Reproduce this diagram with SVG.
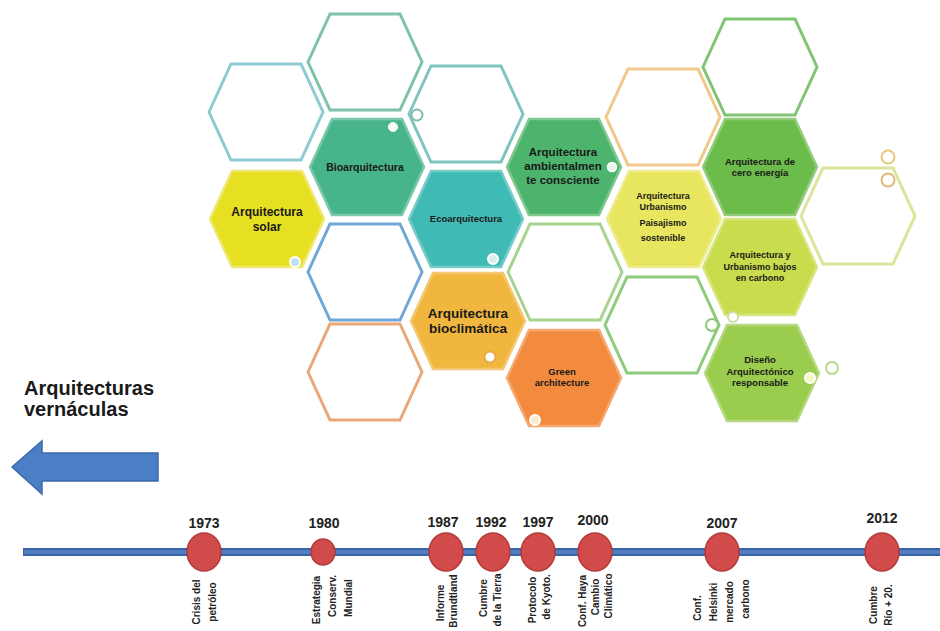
<svg xmlns="http://www.w3.org/2000/svg" xmlns:xlink="http://www.w3.org/1999/xlink" width="940" height="631" viewBox="0 0 940 631">
<defs>
<polygon id="hx" points="-57,0 -35,-48 35,-48 57,0 35,48 -35,48"/>
<style>
.e{fill:#ffffff;stroke-width:3}
.f{stroke-width:2.5}
.t{font-family:"Liberation Sans",Arial,sans-serif;font-weight:bold;fill:#1a1a1a;text-anchor:middle}
.yr{font-family:"Liberation Sans",Arial,sans-serif;font-weight:bold;font-size:14px;fill:#222;text-anchor:middle}
.v{font-family:"Liberation Sans",Arial,sans-serif;font-weight:bold;font-size:10px;fill:#222;text-anchor:middle}
.ev{fill:#d24b4b;stroke:#b23a3a;stroke-width:1.5}
.dw{fill:#ffffff;stroke-width:2}
</style>
</defs>
<rect width="940" height="631" fill="#ffffff"/>

<!-- empty hexagons -->
<g id="hex-empty-1"><use xlink:href="#hx" transform="translate(266,112)" class="e" stroke="#8ecad4"/></g>
<g id="hex-empty-2"><use xlink:href="#hx" transform="translate(365,62)" class="e" stroke="#7ec2a8"/></g>
<g id="hex-empty-3"><use xlink:href="#hx" transform="translate(365,272)" class="e" stroke="#6fa8d6"/></g>
<g id="hex-empty-4"><use xlink:href="#hx" transform="translate(365,372)" class="e" stroke="#eaa878"/></g>
<g id="hex-empty-5"><use xlink:href="#hx" transform="translate(466,114)" class="e" stroke="#80c4c0"/></g>
<g id="hex-empty-6"><use xlink:href="#hx" transform="translate(565,272)" class="e" stroke="#a6d48e"/></g>
<g id="hex-empty-7"><use xlink:href="#hx" transform="translate(663,117)" class="e" stroke="#f2c88a"/></g>
<g id="hex-empty-8"><use xlink:href="#hx" transform="translate(662,325)" class="e" stroke="#8ccc7c"/></g>
<g id="hex-empty-9"><use xlink:href="#hx" transform="translate(760,67)" class="e" stroke="#80c474"/></g>
<g id="hex-empty-10"><use xlink:href="#hx" transform="translate(858,216)" class="e" stroke="#dce49a"/></g>

<!-- filled hexagons -->
<g id="solar">
<use xlink:href="#hx" transform="translate(267,219)" class="f" fill="#e6df22" stroke="#eee870"/>
<text class="t" font-size="12" x="267" y="216">Arquitectura</text>
<text class="t" font-size="12" x="267" y="231">solar</text>
</g>
<g id="bioarquitectura">
<use xlink:href="#hx" transform="translate(367,167)" class="f" fill="#48b48c" stroke="#7cc8aa"/>
<text class="t" font-size="10.5" x="365" y="171">Bioarquitectura</text>
</g>
<g id="ecoarquitectura">
<use xlink:href="#hx" transform="translate(466,219)" class="f" fill="#40bab4" stroke="#78ccc8"/>
<text class="t" font-size="9.5" x="466" y="222">Ecoarquitectura</text>
</g>
<g id="bioclimatica">
<use xlink:href="#hx" transform="translate(468,321)" class="f" fill="#f0b63e" stroke="#f4c870"/>
<text class="t" font-size="13.5" x="468" y="318">Arquitectura</text>
<text class="t" font-size="13.5" x="468" y="333">bioclimática</text>
</g>
<g id="green-architecture">
<use xlink:href="#hx" transform="translate(564,378)" class="f" fill="#f28b3e" stroke="#f5a870"/>
<text class="t" font-size="9.5" x="562" y="375">Green</text>
<text class="t" font-size="9.5" x="562" y="386">architecture</text>
</g>
<g id="ambientalmente">
<use xlink:href="#hx" transform="translate(564,167)" class="f" fill="#4cb46c" stroke="#80c890"/>
<text class="t" font-size="11.5" x="563" y="156">Arquitectura</text>
<text class="t" font-size="11.5" x="563" y="170">ambientalmen</text>
<text class="t" font-size="11.5" x="563" y="184">te consciente</text>
</g>
<g id="paisajismo">
<use xlink:href="#hx" transform="translate(664,219)" class="f" fill="#e8e65e" stroke="#eeec90"/>
<text class="t" font-size="9" x="663" y="199">Arquitectura</text>
<text class="t" font-size="9" x="663" y="210">Urbanismo</text>
<text class="t" font-size="9" x="663" y="226">Paisajismo</text>
<text class="t" font-size="9" x="663" y="241">sostenible</text>
</g>
<g id="cero-energia">
<use xlink:href="#hx" transform="translate(760,167)" class="f" fill="#6cbc4c" stroke="#94cc7c"/>
<text class="t" font-size="9.5" x="760" y="165">Arquitectura  de</text>
<text class="t" font-size="9.5" x="760" y="176">cero energía</text>
</g>
<g id="bajos-carbono">
<use xlink:href="#hx" transform="translate(760,267)" class="f" fill="#c9dc4e" stroke="#d8e680"/>
<text class="t" font-size="9" x="760" y="258">Arquitectura y</text>
<text class="t" font-size="9" x="760" y="270">Urbanismo  bajos</text>
<text class="t" font-size="9" x="760" y="281">en carbono</text>
</g>
<g id="diseno">
<use xlink:href="#hx" transform="translate(762,373)" class="f" fill="#9acc4e" stroke="#b6d880"/>
<text class="t" font-size="9.5" x="760" y="363">Diseño</text>
<text class="t" font-size="9.5" x="760" y="375">Arquitectónico</text>
<text class="t" font-size="9.5" x="760" y="386">responsable</text>
</g>

<!-- decorative small circles -->
<g id="decor">
<circle cx="393" cy="127" r="4.5" fill="#f4fbf8" stroke="#ffffff" stroke-width="1"/>
<circle cx="417" cy="115" r="5.5" class="dw" stroke="#7cc0a8"/>
<circle cx="295" cy="262" r="5" fill="#bfe0f0" stroke="#ffffff" stroke-width="2"/>
<circle cx="493" cy="259" r="5" fill="#d8f0f0" stroke="#ffffff" stroke-width="2"/>
<circle cx="612" cy="167" r="4.5" fill="#e8f4ec" stroke="#ffffff" stroke-width="1.5"/>
<circle cx="888" cy="157" r="6.5" class="dw" stroke="#e8c878"/>
<circle cx="888" cy="180" r="6.5" class="dw" stroke="#e2b870"/>
<circle cx="490" cy="357" r="5.5" class="dw" stroke="#e8a848"/>
<circle cx="535" cy="420" r="5" fill="#fde8d0" stroke="#ffffff" stroke-width="2"/>
<circle cx="712" cy="325" r="6" class="dw" stroke="#8cc878" stroke-width="2.5"/>
<circle cx="733" cy="317" r="5" class="dw" stroke="#c8e0a0"/>
<circle cx="810" cy="378" r="5" fill="#f0f8c0" stroke="#ffffff" stroke-width="2"/>
<circle cx="832" cy="368" r="6" class="dw" stroke="#b8d880" stroke-width="2.5"/>
</g>

<!-- left label and arrow -->
<g id="vernaculas">
<text font-family="Liberation Sans, Arial, sans-serif" font-weight="bold" font-size="20" fill="#1a1a1a" x="24" y="395">Arquitecturas</text>
<text font-family="Liberation Sans, Arial, sans-serif" font-weight="bold" font-size="20" fill="#1a1a1a" x="24" y="416">vernáculas</text>
</g>
<g id="arrow">
<polygon points="12,467 42,441 42,453 158,453 158,481 42,481 42,494" fill="#4a7fc6" stroke="#3b6aa8" stroke-width="1.5"/>
</g>

<!-- timeline -->
<g id="connectors">
<line x1="23" y1="552" x2="940" y2="552" stroke="#3a65a5" stroke-width="8"/>
<line x1="24" y1="552" x2="940" y2="552" stroke="#5282c4" stroke-width="3.5"/>
</g>

<g id="ev-1973">
<ellipse cx="204" cy="552" rx="17" ry="19" class="ev"/>
<text class="yr" x="204" y="528">1973</text>
<text class="v" transform="translate(196,602) rotate(-90)" dy="0.35em">Crisis del</text>
<text class="v" transform="translate(212,602) rotate(-90)" dy="0.35em">petróleo</text>
</g>
<g id="ev-1980">
<ellipse cx="323" cy="552" rx="12" ry="13" class="ev"/>
<text class="yr" x="324" y="528">1980</text>
<text class="v" transform="translate(316,600) rotate(-90)" dy="0.35em">Estrategia</text>
<text class="v" transform="translate(332,596) rotate(-90)" dy="0.35em">Conserv.</text>
<text class="v" transform="translate(348,598) rotate(-90)" dy="0.35em">Mundial</text>
</g>
<g id="ev-1987">
<ellipse cx="446" cy="552" rx="17" ry="19" class="ev"/>
<text class="yr" x="443" y="527">1987</text>
<text class="v" transform="translate(440,603) rotate(-90)" dy="0.35em">Informe</text>
<text class="v" transform="translate(453,601) rotate(-90)" dy="0.35em">Brundtland</text>
</g>
<g id="ev-1992">
<ellipse cx="493" cy="552" rx="17" ry="19" class="ev"/>
<text class="yr" x="491" y="527">1992</text>
<text class="v" transform="translate(483,598) rotate(-90)" dy="0.35em">Cumbre</text>
<text class="v" transform="translate(497,600) rotate(-90)" dy="0.35em">de la Tierra</text>
</g>
<g id="ev-1997">
<ellipse cx="538" cy="552" rx="17" ry="19" class="ev"/>
<text class="yr" x="538" y="527">1997</text>
<text class="v" transform="translate(532,600) rotate(-90)" dy="0.35em">Protocolo</text>
<text class="v" transform="translate(546,597) rotate(-90)" dy="0.35em">de Kyoto.</text>
</g>
<g id="ev-2000">
<ellipse cx="595" cy="552" rx="17" ry="19" class="ev"/>
<text class="yr" x="593" y="525">2000</text>
<text class="v" transform="translate(582,601) rotate(-90)" dy="0.35em">Conf. Haya</text>
<text class="v" transform="translate(595,597) rotate(-90)" dy="0.35em">Cambio</text>
<text class="v" transform="translate(608,596) rotate(-90)" dy="0.35em">Climático</text>
</g>
<g id="ev-2007">
<ellipse cx="722" cy="552" rx="17" ry="19" class="ev"/>
<text class="yr" x="722" y="528">2007</text>
<text class="v" transform="translate(697,608) rotate(-90)" dy="0.35em">Conf.</text>
<text class="v" transform="translate(713,602) rotate(-90)" dy="0.35em">Helsinki</text>
<text class="v" transform="translate(729,602) rotate(-90)" dy="0.35em">mercado</text>
<text class="v" transform="translate(745,599) rotate(-90)" dy="0.35em">carbono</text>
</g>
<g id="ev-2012">
<ellipse cx="882" cy="552" rx="17" ry="19" class="ev"/>
<text class="yr" x="882" y="523">2012</text>
<text class="v" transform="translate(873,605) rotate(-90)" dy="0.35em">Cumbre</text>
<text class="v" transform="translate(888,605) rotate(-90)" dy="0.35em">Río + 20.</text>
</g>
</svg>
